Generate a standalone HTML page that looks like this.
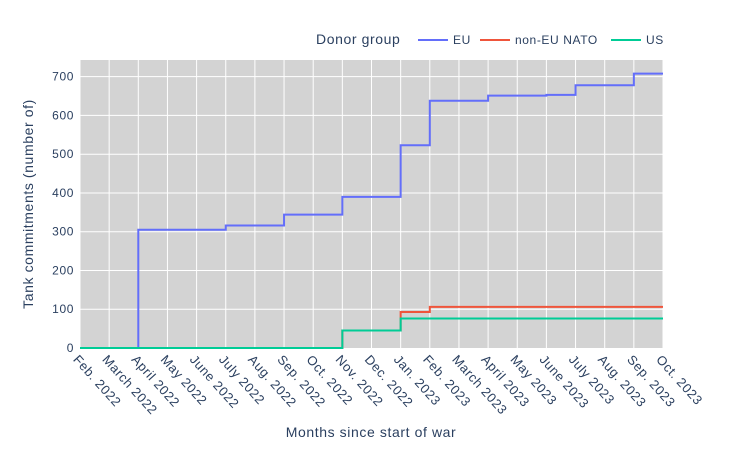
<!DOCTYPE html>
<html><head><meta charset="utf-8"><style>
body{margin:0;background:#fff;font-family:"Liberation Sans",Arial,sans-serif}
text{font-family:"Liberation Sans",Arial,sans-serif;letter-spacing:0.6px}
</style></head><body>
<svg id="c" width="744" height="450" xmlns="http://www.w3.org/2000/svg"></svg>
<script>
const months=["Feb. 2022","March 2022","April 2022","May 2022","June 2022","July 2022","Aug. 2022","Sep. 2022","Oct. 2022","Nov. 2022","Dec. 2022","Jan. 2023","Feb. 2023","March 2023","April 2023","May 2023","June 2023","July 2023","Aug. 2023","Sep. 2023","Oct. 2023"];
const yTicks=[0,100,200,300,400,500,600,700];
const euVals=[0,0,305,305,305,316,316,344,344,390,390,523,638,638,651,651,653,678,678,708,708];
const nonEuVals=[0,0,0,0,0,0,0,0,0,45,45,93,106,106,106,106,106,106,106,106,106];
const usVals=[0,0,0,0,0,0,0,0,0,45,45,76,76,76,76,76,76,76,76,76,76];
const seriesNames=["EU","non-EU NATO","US"];
const colors=["#636efa","#ef553b","#00cc96"];
const svg=document.getElementById('c');
const NS="http://www.w3.org/2000/svg";
const L=80,R=663,T=60,B=348,YMAX=743;
const xs=i=>L+(R-L)*i/(months.length-1);
const ys=v=>B-(B-T)*v/YMAX;
function mk(t,a,p){const e=document.createElementNS(NS,t);for(const k in a)e.setAttribute(k,a[k]);(p||svg).appendChild(e);return e;}
const bg=mk('rect',{x:L,y:T,width:R-L,height:B-T,fill:'#d3d3d3'});


months.forEach((m,i)=>{
 const g=mk('line',{x1:xs(i),x2:xs(i),y1:T,y2:B,stroke:'#fff','stroke-width':1});
 
 
 const x=xs(i),y=B+8;
 const t=mk('text',{x:x-3,y:y+6,'font-size':13,fill:'#2a3f5f',transform:`rotate(48 ${x-3} ${y})`});
 t.textContent=m;
 
 
});
yTicks.forEach(v=>{
 if(v>0){const g=mk('line',{x1:L,x2:R,y1:ys(v),y2:ys(v),stroke:'#fff','stroke-width':1});
 
 }
 const t=mk('text',{x:L-6,y:ys(v)+4,'font-size':12,fill:'#2a3f5f','text-anchor':'end'});
 t.textContent=v;
 
 
});
[euVals,nonEuVals,usVals].forEach((vals,s)=>{
 let d=`M${xs(0)},${ys(vals[0])}`;
 for(let i=1;i<vals.length;i++){d+=`H${xs(i)}V${ys(vals[i])}`;}
 const p=mk('path',{d,fill:'none',stroke:colors[s],'stroke-width':2});
 
 
});
const xt=mk('text',{x:371,y:437,'font-size':14,fill:'#2a3f5f','text-anchor':'middle'});
xt.textContent='Months since start of war';


const yt=mk('text',{x:33,y:204,'font-size':14,fill:'#2a3f5f','text-anchor':'middle',transform:'rotate(-90 33 204)'});
yt.textContent='Tank commitments (number of)';


const lt=mk('text',{x:316,y:44,'font-size':14,fill:'#2a3f5f'});
lt.textContent='Donor group';


const lx=[418,480,611];
seriesNames.forEach((n,s)=>{
 const g=mk('g',{});
 
 
 mk('line',{x1:lx[s],x2:lx[s]+30,y1:40,y2:40,stroke:colors[s],'stroke-width':2},g);
 const t=mk('text',{x:lx[s]+35,y:44,'font-size':12,fill:'#2a3f5f'},g);
 t.textContent=n;
});
</script>
</body></html>
